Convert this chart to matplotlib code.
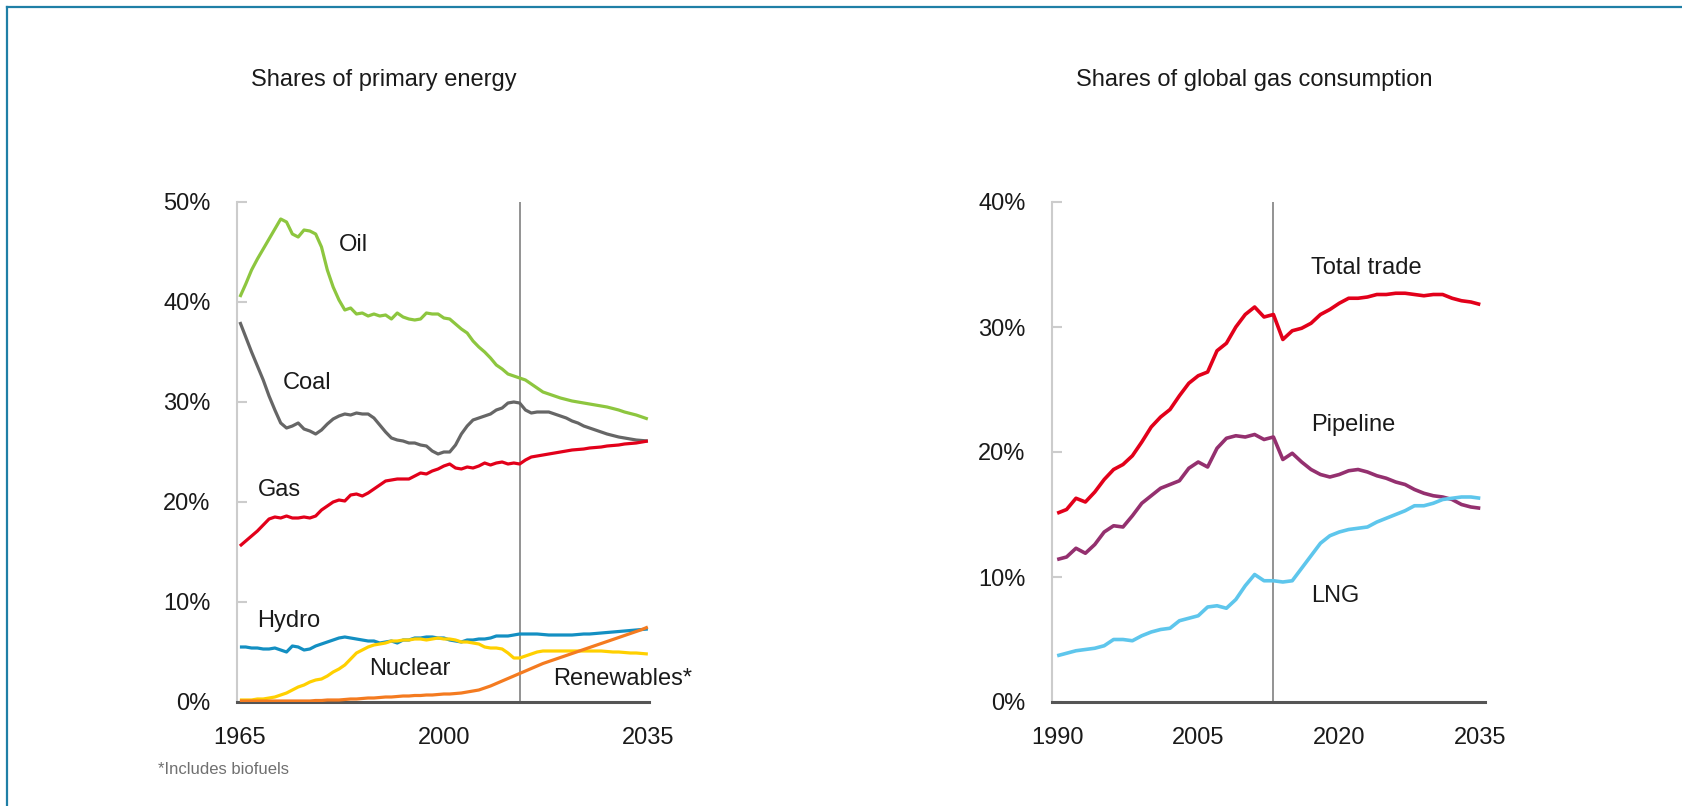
import numpy as np
import matplotlib.pyplot as plt
from matplotlib.lines import Line2D
from matplotlib.ticker import FuncFormatter

plt.rcParams['font.family'] = ['Liberation Sans', 'DejaVu Sans']

# ---- left panel: shares of primary energy (%), 1965-2035 ----
years_left = list(range(1965, 2036))

oil = [40.5, 41.8, 43.2, 44.3, 45.3, 46.3, 47.3, 48.3, 48.0, 46.8,
       46.5, 47.2, 47.1, 46.8, 45.5, 43.2, 41.5, 40.2, 39.2, 39.4,
       38.8, 38.9, 38.6, 38.8, 38.6, 38.7, 38.3, 38.9, 38.5, 38.3,
       38.2, 38.3, 38.9, 38.8, 38.8, 38.4, 38.3, 37.8, 37.3, 36.9,
       36.1, 35.5, 35.0, 34.4, 33.7, 33.3, 32.8, 32.6, 32.4, 32.2,
       31.8, 31.4, 31.0, 30.8, 30.6, 30.4, 30.25, 30.1, 30.0, 29.9,
       29.8, 29.7, 29.6, 29.5, 29.35, 29.2, 29.0, 28.85, 28.7, 28.5,
       28.3]
coal = [38.0, 36.5, 35.0, 33.6, 32.2, 30.6, 29.2, 27.9, 27.4, 27.6,
        27.9, 27.3, 27.1, 26.8, 27.2, 27.8, 28.3, 28.6, 28.8, 28.7,
        28.9, 28.8, 28.8, 28.4, 27.7, 27.0, 26.4, 26.2, 26.1, 25.9,
        25.9, 25.7, 25.6, 25.1, 24.8, 25.0, 25.0, 25.7, 26.8, 27.6,
        28.2, 28.4, 28.6, 28.8, 29.2, 29.4, 29.9, 30.0, 29.9, 29.2,
        28.9, 29.0, 29.0, 29.0, 28.8, 28.6, 28.4, 28.1, 27.9, 27.6,
        27.4, 27.2, 27.0, 26.8, 26.65, 26.5, 26.4, 26.3, 26.2, 26.15,
        26.1]
gas = [15.6, 16.1, 16.6, 17.1, 17.7, 18.3, 18.5, 18.4, 18.6, 18.4,
       18.4, 18.5, 18.4, 18.6, 19.2, 19.6, 20.0, 20.2, 20.1, 20.7,
       20.8, 20.6, 20.9, 21.3, 21.7, 22.1, 22.2, 22.3, 22.3, 22.3,
       22.6, 22.9, 22.8, 23.1, 23.3, 23.6, 23.8, 23.4, 23.3, 23.5,
       23.4, 23.6, 23.9, 23.7, 23.9, 24.0, 23.8, 23.9, 23.8, 24.2,
       24.5, 24.6, 24.7, 24.8, 24.9, 25.0, 25.1, 25.2, 25.25, 25.3,
       25.4, 25.45, 25.5, 25.6, 25.65, 25.7, 25.8, 25.85, 25.9, 26.0,
       26.1]
hydro = [5.5, 5.5, 5.4, 5.4, 5.3, 5.3, 5.4, 5.2, 5.0, 5.6,
         5.5, 5.2, 5.3, 5.6, 5.8, 6.0, 6.2, 6.4, 6.5, 6.4,
         6.3, 6.2, 6.1, 6.1, 5.9, 6.0, 6.1, 5.9, 6.2, 6.2,
         6.4, 6.4, 6.5, 6.5, 6.4, 6.4, 6.2, 6.1, 6.0, 6.2,
         6.2, 6.3, 6.3, 6.4, 6.6, 6.6, 6.6, 6.7, 6.8, 6.8,
         6.8, 6.8, 6.75, 6.7, 6.7, 6.7, 6.7, 6.7, 6.75, 6.8,
         6.8, 6.85, 6.9, 6.95, 7.0, 7.05, 7.1, 7.15, 7.2, 7.25,
         7.3]
nuclear = [0.2, 0.2, 0.2, 0.3, 0.3, 0.4, 0.5, 0.7, 0.9, 1.2,
           1.5, 1.7, 2.0, 2.2, 2.3, 2.6, 3.0, 3.3, 3.7, 4.3,
           4.9, 5.2, 5.5, 5.7, 5.8, 5.9, 6.1, 6.1, 6.2, 6.2,
           6.3, 6.3, 6.2, 6.3, 6.4, 6.3, 6.3, 6.2, 6.0, 6.0,
           5.9, 5.8, 5.5, 5.4, 5.4, 5.3, 4.9, 4.4, 4.4, 4.6,
           4.8, 5.0, 5.1, 5.1, 5.1, 5.1, 5.1, 5.1, 5.1, 5.1,
           5.1, 5.1, 5.1, 5.05, 5.0, 5.0, 4.95, 4.9, 4.9, 4.85,
           4.8]
renewables = [0.1, 0.1, 0.1, 0.1, 0.1, 0.1, 0.1, 0.1, 0.1, 0.1,
              0.1, 0.1, 0.1, 0.15, 0.15, 0.2, 0.2, 0.2, 0.25, 0.3,
              0.3, 0.35, 0.4, 0.4, 0.45, 0.5, 0.5, 0.55, 0.6, 0.6,
              0.65, 0.65, 0.7, 0.7, 0.75, 0.8, 0.8, 0.85, 0.9, 1.0,
              1.1, 1.2, 1.4, 1.6, 1.85, 2.1, 2.35, 2.6, 2.85, 3.1,
              3.35, 3.6, 3.85, 4.05, 4.25, 4.45, 4.65, 4.85, 5.05, 5.25,
              5.45, 5.65, 5.85, 6.05, 6.25, 6.45, 6.65, 6.85, 7.05, 7.25,
              7.5]

# ---- right panel: shares of global gas consumption (%), 1990-2035 ----
years_right = list(range(1990, 2036))

total_trade = [15.1, 15.4, 16.3, 16.0, 16.8, 17.8, 18.6, 19.0, 19.7, 20.8,
               22.0, 22.8, 23.4, 24.5, 25.5, 26.1, 26.4, 28.1, 28.7, 30.0,
               31.0, 31.6, 30.8, 31.0, 29.0, 29.7, 29.9, 30.3, 31.0, 31.4,
               31.9, 32.3, 32.3, 32.4, 32.6, 32.6, 32.7, 32.7, 32.6, 32.5,
               32.6, 32.6, 32.3, 32.1, 32.0, 31.8]
pipeline = [11.4, 11.6, 12.3, 11.9, 12.6, 13.6, 14.1, 14.0, 14.9, 15.9,
            16.5, 17.1, 17.4, 17.7, 18.7, 19.2, 18.8, 20.3, 21.1, 21.3,
            21.2, 21.4, 21.0, 21.2, 19.4, 19.9, 19.2, 18.6, 18.2, 18.0,
            18.2, 18.5, 18.6, 18.4, 18.1, 17.9, 17.6, 17.4, 17.0, 16.7,
            16.5, 16.4, 16.2, 15.8, 15.6, 15.5]
lng = [3.7, 3.9, 4.1, 4.2, 4.3, 4.5, 5.0, 5.0, 4.9, 5.3,
       5.6, 5.8, 5.9, 6.5, 6.7, 6.9, 7.6, 7.7, 7.5, 8.2,
       9.3, 10.2, 9.7, 9.7, 9.6, 9.7, 10.7, 11.7, 12.7, 13.3,
       13.6, 13.8, 13.9, 14.0, 14.4, 14.7, 15.0, 15.3, 15.7, 15.7,
       15.9, 16.2, 16.3, 16.4, 16.4, 16.3]

base_year = 2013

left_series = [
    (oil, '#8dc63f', 'Oil', 1982.0, 45.7),
    (coal, '#666666', 'Coal', 1972.3, 31.9),
    (gas, '#e2001a', 'Gas', 1968.0, 21.2),
    (hydro, '#138fc2', 'Hydro', 1967.9, 8.1),
    (nuclear, '#ffd000', 'Nuclear', 1987.2, 3.3),
    (renewables, '#f47b20', 'Renewables*', 2018.8, 2.3),
]
right_series = [
    (total_trade, '#e2001a', 'Total trade', 2017.0, 34.7),
    (pipeline, '#94306f', 'Pipeline', 2017.0, 22.2),
    (lng, '#5ec6ec', 'LNG', 2017.0, 8.5),
]

W, H = 1682, 806
fig = plt.figure(figsize=(W / 100, H / 100), dpi=100)
fig.patch.set_facecolor('white')


def style_axes(ax, xticks, ymax, ystep):
    for s in ('top', 'right'):
        ax.spines[s].set_visible(False)
    ax.spines['left'].set_color('#cccccc')
    ax.spines['left'].set_linewidth(1.5)
    ax.spines['bottom'].set_color('#555555')
    ax.spines['bottom'].set_linewidth(2.2)
    ax.set_ylim(0, ymax)
    ax.set_yticks(np.arange(0, ymax + 0.01, ystep))
    ax.yaxis.set_major_formatter(FuncFormatter(lambda v, p: f'{v:.0f}%'))
    ax.set_xticks(xticks)
    ax.tick_params(axis='y', direction='in', length=7, width=1.5,
                   color='#cccccc', pad=19, labelsize=17, labelcolor='#1a1a1a')
    ax.tick_params(axis='x', length=0, pad=18, labelsize=17, labelcolor='#1a1a1a')
    ax.axvline(base_year, color='#8a8a8a', lw=1.3, zorder=1)


# left axes
ax1 = fig.add_axes([237 / W, 1 - 702 / H, (649 - 237) / W, 500 / H])
style_axes(ax1, [1965, 2000, 2035], 50, 10)
ax1.set_xlim(1964.5, 2035.2)
for vals, col, name, tx, ty in left_series:
    ax1.plot(years_left, vals, color=col, lw=2.3, zorder=3, solid_capstyle='butt')
    ax1.text(tx, ty, name, fontsize=17, color='#1a1a1a', va='center', ha='left')

# right axes
ax2 = fig.add_axes([1052 / W, 1 - 702 / H, (1485 - 1052) / W, 500 / H])
style_axes(ax2, [1990, 2005, 2020, 2035], 40, 10)
ax2.set_xlim(1989.45, 2035.5)
for vals, col, name, tx, ty in right_series:
    ax2.plot(years_right, vals, color=col, lw=2.6, zorder=3, solid_capstyle='butt')
    ax2.text(tx, ty, name, fontsize=17, color='#1a1a1a', va='center', ha='left')

# titles and footnote
fig.text(384 / W, 1 - 80 / H, 'Shares of primary energy', fontsize=17,
         ha='center', va='center', color='#1a1a1a')
fig.text(1254 / W, 1 - 80 / H, 'Shares of global gas consumption', fontsize=17,
         ha='center', va='center', color='#1a1a1a')
fig.text(158 / W, 1 - 770 / H, '*Includes biofuels', fontsize=12,
         ha='left', va='center', color='#707070')

# frame lines (top and left edge)
fig.add_artist(Line2D([7 / W, 1], [1 - 7 / H, 1 - 7 / H], color='#1f7fa6',
                      lw=1.6, transform=fig.transFigure))
fig.add_artist(Line2D([7 / W, 7 / W], [0, 1 - 7 / H], color='#1f7fa6',
                      lw=1.6, transform=fig.transFigure))

fig.savefig('out.png', dpi=100)
